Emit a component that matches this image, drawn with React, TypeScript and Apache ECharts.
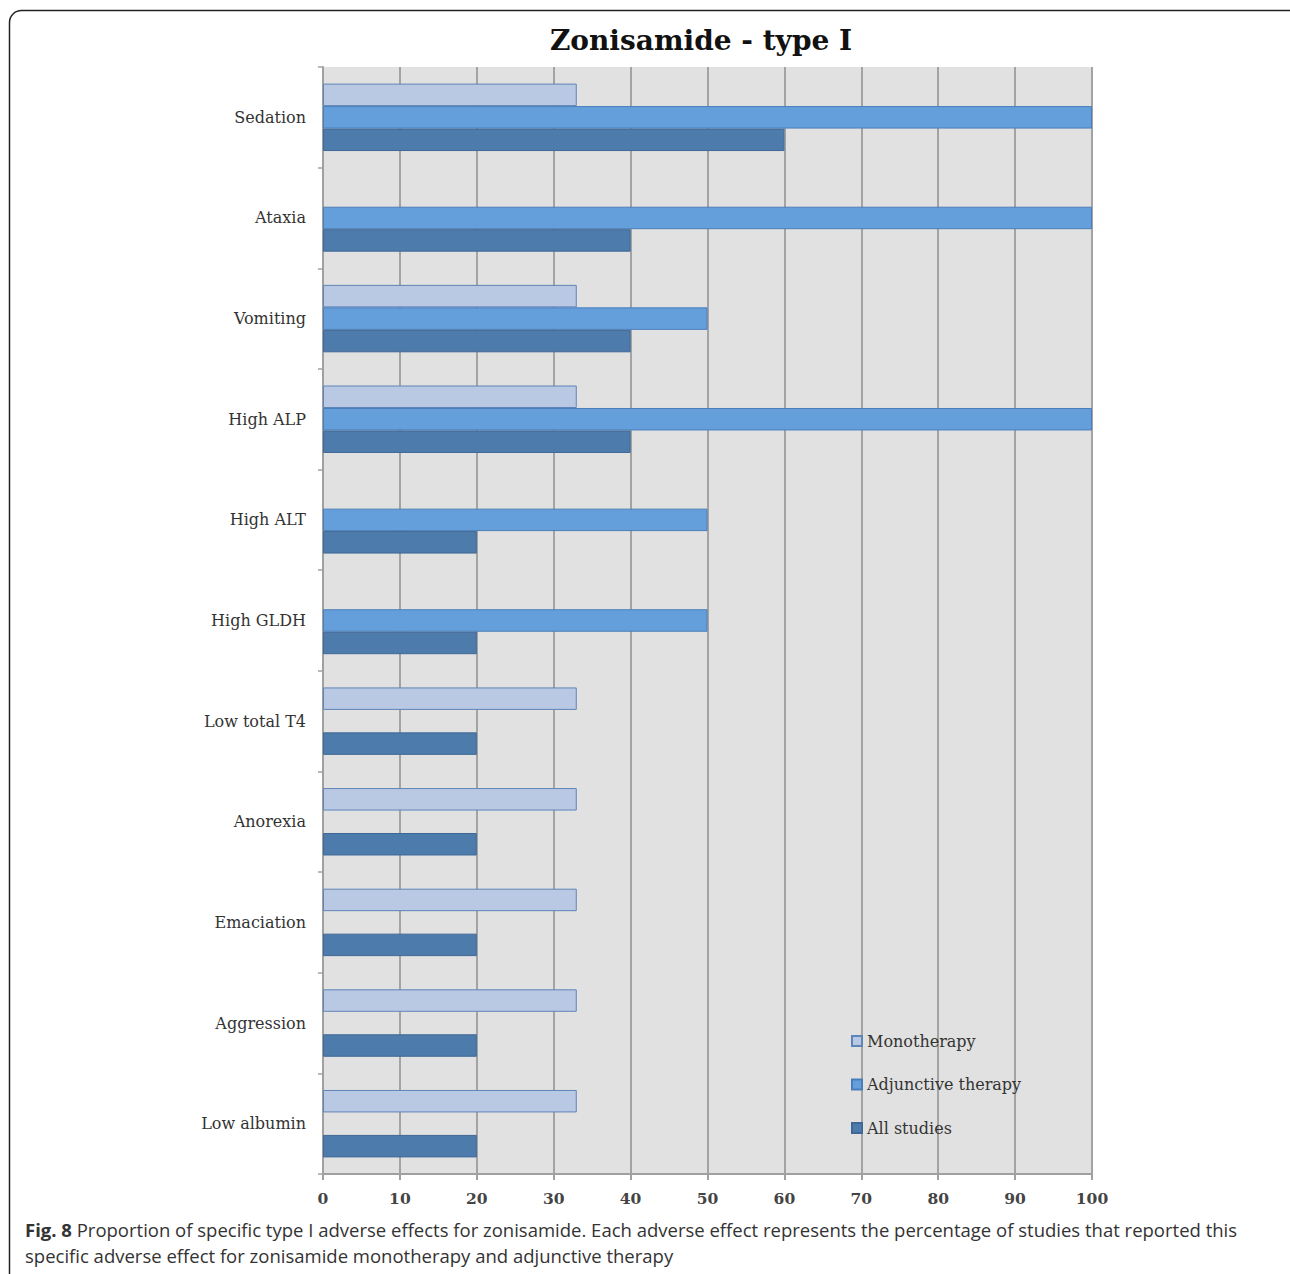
import React, { useEffect, useRef } from "react";
import * as echarts from "echarts";

const categories = [
  "Sedation",
  "Ataxia",
  "Vomiting",
  "High ALP",
  "High ALT",
  "High GLDH",
  "Low total T4",
  "Anorexia",
  "Emaciation",
  "Aggression",
  "Low albumin",
];

// Percentage of studies reporting each adverse effect (null = not reported)
const monotherapy = [33, null, 33, 33, null, null, 33, 33, 33, 33, 33];
const adjunctive = [100, 100, 50, 100, 50, 50, null, null, null, null, null];
const allStudies = [60, 40, 40, 40, 20, 20, 20, 20, 20, 20, 20];

const xTicks = [0, 10, 20, 30, 40, 50, 60, 70, 80, 90, 100];

const seriesNames = ["Monotherapy", "Adjunctive therapy", "All studies"];

const SERIF = "'DejaVu Serif', 'Liberation Serif', serif";
const SANS = "'Open Sans', 'Noto Sans', sans-serif";

export default function App() {
  const ref = useRef<HTMLDivElement>(null);

  useEffect(() => {
    document.body.style.margin = "0";
    if (!ref.current) return;
    const chart = echarts.init(ref.current, undefined, { renderer: "svg" });

    const barStyle = (fill: string, border: string) => ({
      color: fill,
      borderColor: border,
      borderWidth: 1,
    });

    chart.setOption({
      animation: false,
      backgroundColor: "#ffffff",
      title: {
        text: "Zonisamide - type I",
        left: 696,
        top: 21,
        textAlign: "center",
        textStyle: {
          fontFamily: SERIF,
          fontWeight: "bold",
          fontSize: 28,
          color: "#111111",
        },
      },
      grid: {
        left: 323,
        right: 198,
        top: 67,
        bottom: 100,
        show: true,
        backgroundColor: "#e1e1e1",
        borderWidth: 0,
      },
      legend: {
        orient: "vertical",
        left: 846,
        top: 1028,
        itemWidth: 10,
        itemHeight: 10,
        itemGap: 27.5,
        icon: "rect",
        data: seriesNames,
        textStyle: {
          fontFamily: SERIF,
          fontSize: 16,
          color: "#333333",
        },
      },
      xAxis: {
        type: "value",
        min: 0,
        max: 100,
        interval: 10,
        axisLine: { show: true, lineStyle: { color: "#a0a0a0", width: 2 } },
        axisTick: { show: true, length: 6, lineStyle: { color: "#a0a0a0", width: 2 } },
        splitLine: { show: true, lineStyle: { color: "#a3a3a3", width: 2 } },
        axisLabel: {
          margin: 16,
          fontFamily: SERIF,
          fontSize: 15.5,
          fontWeight: "bold",
          color: "#444444",
          formatter: (v: number) => (xTicks.includes(v) ? String(v) : ""),
        },
      },
      yAxis: {
        type: "category",
        data: categories,
        inverse: true,
        axisLine: { show: true, lineStyle: { color: "#a0a0a0", width: 2 } },
        axisTick: { show: true, length: 5, alignWithLabel: false, lineStyle: { color: "#a0a0a0", width: 1.5 } },
        axisLabel: {
          margin: 17,
          fontFamily: SERIF,
          fontSize: 16,
          color: "#333333",
        },
      },
      series: [
        {
          name: seriesNames[0],
          type: "bar",
          data: monotherapy,
          barGap: "0%",
          barCategoryGap: "33%",
          itemStyle: barStyle("#b9c8e3", "#5f85b8"),
        },
        {
          name: seriesNames[1],
          type: "bar",
          data: adjunctive,
          barGap: "0%",
          barCategoryGap: "33%",
          itemStyle: barStyle("#649fdc", "#4a7eb9"),
        },
        {
          name: seriesNames[2],
          type: "bar",
          data: allStudies,
          barGap: "0%",
          barCategoryGap: "33%",
          itemStyle: barStyle("#4d7bab", "#3f6897"),
        },
      ],
      graphic: [
        {
          type: "rect",
          shape: { x: 9.5, y: 10.5, width: 1300, height: 1300, r: 12 },
          style: { fill: "none", stroke: "#222222", lineWidth: 1.5 },
          silent: true,
        },
        {
          type: "text",
          left: 25,
          top: 1220,
          style: {
            text: "{b|Fig. 8} Proportion of specific type I adverse effects for zonisamide. Each adverse effect represents the percentage of studies that reported this",
            fontFamily: SANS,
            fontSize: 18.5,
            fill: "#333333",
            rich: {
              b: { fontFamily: SANS, fontSize: 18.5, fontWeight: "bold", fill: "#333333" },
            },
          },
        },
        {
          type: "text",
          left: 25,
          top: 1246,
          style: {
            text: "specific adverse effect for zonisamide monotherapy and adjunctive therapy",
            fontFamily: SANS,
            fontSize: 18.5,
            fill: "#333333",
          },
        },
      ],
    });

    return () => chart.dispose();
  }, []);

  return <div ref={ref} style={{ width: 1290, height: 1274 }} />;
}
